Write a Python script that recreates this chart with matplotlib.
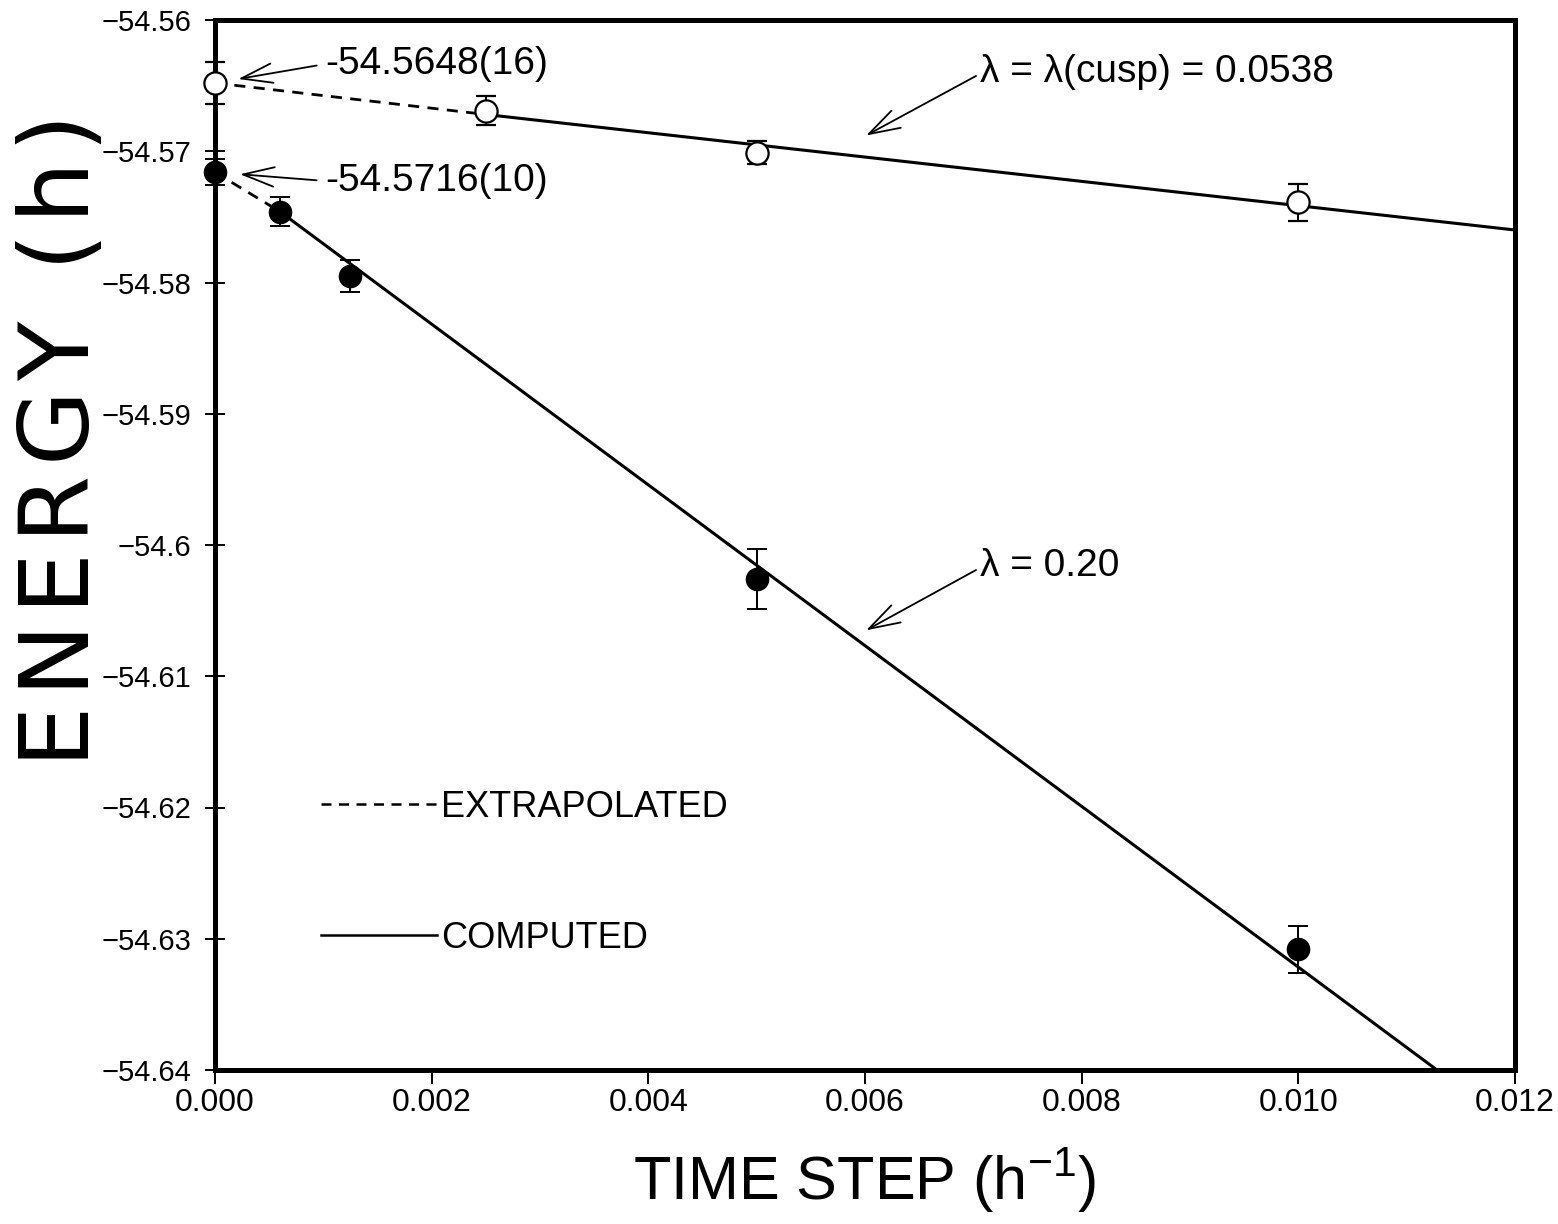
import numpy as np
import matplotlib
matplotlib.use('Agg')
from matplotlib import pyplot as plt
from matplotlib.ticker import FixedLocator, FuncFormatter
from matplotlib.lines import Line2D

plt.rcParams['font.family'] = ['Liberation Sans', 'DejaVu Sans']
plt.rcParams['mathtext.fontset'] = 'custom'
plt.rcParams['mathtext.rm'] = 'Liberation Sans'

# lambda = lambda(cusp) = 0.0538  (open circles)
t_cusp = [0.0, 0.0025, 0.005, 0.010]
e_cusp = [-54.5648, -54.5669, -54.5701, -54.5739]
err_cusp = [0.0016, 0.0011, 0.0009, 0.0014]

# lambda = 0.20  (filled circles)
t_020 = [0.0, 0.0006, 0.00125, 0.005, 0.010]
e_020 = [-54.5716, -54.5746, -54.5795, -54.6026, -54.6308]
err_020 = [0.0010, 0.0011, 0.0012, 0.0023, 0.0018]

# fitted lines (computed) and extrapolations to zero time step
fit_cusp_t = [0.0025, 0.012]
fit_cusp_e = [-54.5672, -54.5760]
ext_cusp_t = [0.0, 0.0025]
ext_cusp_e = [-54.5648, -54.5672]

fit_020_t = [0.0006, 0.01128]
fit_020_e = [-54.5746, -54.6400]
ext_020_t = [0.0, 0.0006]
ext_020_e = [-54.5716, -54.5746]

xticks = [0.000, 0.002, 0.004, 0.006, 0.008, 0.010, 0.012]
yticks = [-54.56, -54.57, -54.58, -54.59, -54.60, -54.61, -54.62, -54.63, -54.64]

fig = plt.figure(figsize=(15.58, 12.24), dpi=100)
ax = fig.add_axes([215/1558, 1-1070/1224, 1300/1558, 1050/1224])

ax.plot(fit_cusp_t, fit_cusp_e, 'k-', lw=2.2)
ax.plot(ext_cusp_t, ext_cusp_e, 'k--', lw=2.0, dashes=(4, 3))
ax.plot(fit_020_t, fit_020_e, 'k-', lw=2.2)
ax.plot(ext_020_t, ext_020_e, 'k--', lw=2.0, dashes=(4, 3))

ax.errorbar(t_020, e_020, yerr=err_020, fmt='o', ms=16, mfc='black', mec='black',
            ecolor='black', elinewidth=1.4, capsize=7, capthick=1.4,
            clip_on=False, zorder=5)
ax.errorbar(t_cusp, e_cusp, yerr=err_cusp, fmt='o', ms=16, mfc='white', mec='black',
            mew=1.6, ecolor='black', elinewidth=1.4, capsize=7, capthick=1.4,
            clip_on=False, zorder=5)

ax.set_xlim(0, 0.012)
ax.set_ylim(-54.64, -54.56)
ax.xaxis.set_major_locator(FixedLocator(xticks))
ax.yaxis.set_major_locator(FixedLocator(yticks))
ax.xaxis.set_major_formatter(FuncFormatter(lambda v, p: '%.3f' % v))
ax.yaxis.set_major_formatter(FuncFormatter(lambda v, p: ('%g' % round(v, 4)).replace('-', '\u2212')))
ax.tick_params(axis='x', direction='out', length=10, width=1.4, labelsize=23, pad=3)
ax.tick_params(axis='y', direction='inout', length=14, width=1.4, labelsize=21, pad=10)

for s in ax.spines.values():
    s.set_linewidth(3.6)

hs = '\u200a'
ylab = hs.join('ENERGY') + hs + ' ' + hs + hs.join('(h)')
ax.set_ylabel(ylab, fontsize=70, family=['DejaVu Sans'], va='center')
ax.yaxis.set_label_coords(-0.117, 0.60)
ax.set_xlabel('TIME STEP (h$^{\\mathregular{-1}}$)', fontsize=44, va='center')
ax.xaxis.set_label_coords(0.5, -0.105)

arrow = dict(arrowstyle='->,head_length=0.8,head_width=0.25', lw=1.3, color='black')
ax.annotate('-54.5648(16)', xy=(t_cusp[0], e_cusp[0]), xytext=(0.0846, 0.958),
            textcoords='axes fraction', fontsize=28, va='center', ha='left',
            arrowprops=dict(arrow, shrinkA=4, shrinkB=17, relpos=(0, 0.5)))
ax.annotate('-54.5716(10)', xy=(t_020[0], e_020[0]), xytext=(0.0846, 0.8467),
            textcoords='axes fraction', fontsize=28, va='center', ha='left',
            arrowprops=dict(arrow, shrinkA=4, shrinkB=18, relpos=(0, 0.5)))
ax.annotate('\u03bb = \u03bb(cusp) = 0.0538', xy=(0.00601, -54.5688), xytext=(0.5885, 0.9505),
            textcoords='axes fraction', fontsize=28, va='center', ha='left',
            arrowprops=dict(arrow, shrinkA=1, shrinkB=0, relpos=(0, 0.45)))
ax.annotate('\u03bb = 0.20', xy=(0.00601, -54.6065), xytext=(0.5885, 0.48),
            textcoords='axes fraction', fontsize=28, va='center', ha='left',
            arrowprops=dict(arrow, shrinkA=1, shrinkB=0, relpos=(0, 0.45)))

handles = [Line2D([], [], color='black', ls='--', lw=1.8, dashes=(4, 3)),
           Line2D([], [], color='black', ls='-', lw=1.8)]
ax.legend(handles, ['EXTRAPOLATED', 'COMPUTED'], loc='upper left',
          bbox_to_anchor=(0.068, 0.284), frameon=False, fontsize=26,
          handlelength=3.2, handletextpad=0.12, labelspacing=2.65, borderpad=0)

fig.savefig('out.png', dpi=100)
